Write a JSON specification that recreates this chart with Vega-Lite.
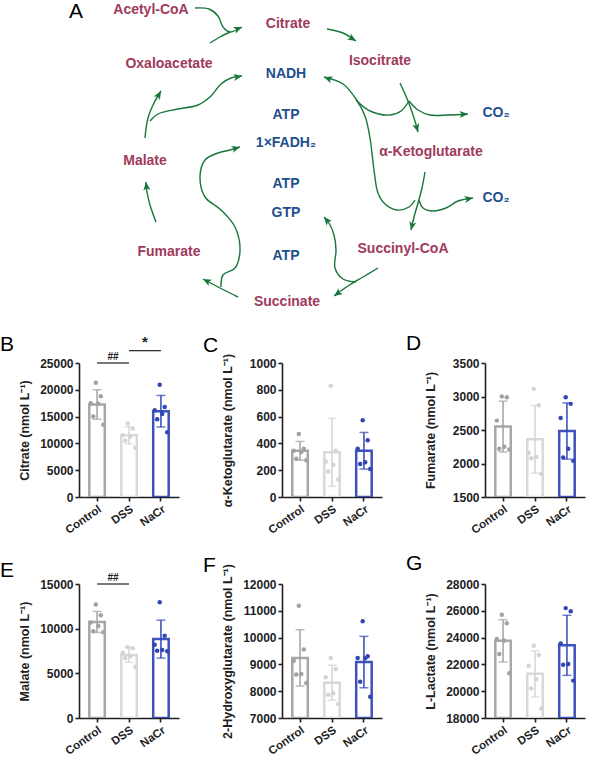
{
"$schema":"https://vega.github.io/schema/vega-lite/v6.json",
"padding":{"left":0,"top":0,"right":0,"bottom":30},
"background":"white",
"config":{
 "font":"Liberation Sans",
 "view":{"stroke":null},
 "title":{"anchor":"start","frame":"bounds","fontSize":21,"fontWeight":"normal","font":"Liberation Sans","color":"#000000","offset":4},
 "axis":{"grid":false,"domainColor":"#221e1f","domainWidth":1.6,"tickColor":"#221e1f","tickWidth":1.6,"tickSize":4,"labelFont":"Liberation Sans","labelFontSize":12,"labelFontWeight":"bold","labelColor":"#221e1f","labelPadding":2,"titleFont":"Liberation Sans","titleFontSize":12.5,"titleFontWeight":"bold","titleColor":"#221e1f","labelOverlap":false},
 "axisY":{"minExtent":40,"maxExtent":40,"titlePadding":8,"format":"d","labelOverlap":false,"tickCount":20},
 "axisX":{"labelAngle":-35,"labelAlign":"right","labelBaseline":"top","labelPadding":2,"labelFontSize":11.5}
},
"datasets":{
 "labels":[
  {"label":"Acetyl-CoA","x":153,"y":10,"kind":"metabolite"},
  {"label":"Citrate","x":290,"y":24,"kind":"metabolite"},
  {"label":"Isocitrate","x":382,"y":61,"kind":"metabolite"},
  {"label":"Oxaloacetate","x":171,"y":64,"kind":"metabolite"},
  {"label":"NADH","x":288,"y":74,"kind":"cofactor"},
  {"label":"ATP","x":288,"y":115,"kind":"cofactor"},
  {"label":"1×FADH₂","x":288,"y":143,"kind":"cofactor"},
  {"label":"CO₂","x":498,"y":113,"kind":"cofactor"},
  {"label":"α-Ketoglutarate","x":433,"y":152,"kind":"metabolite"},
  {"label":"Malate","x":147,"y":161,"kind":"metabolite"},
  {"label":"ATP","x":288,"y":184,"kind":"cofactor"},
  {"label":"GTP","x":288,"y":213,"kind":"cofactor"},
  {"label":"CO₂","x":498,"y":198,"kind":"cofactor"},
  {"label":"Fumarate","x":171,"y":252,"kind":"metabolite"},
  {"label":"Succinyl-CoA","x":405,"y":249,"kind":"metabolite"},
  {"label":"ATP","x":288,"y":256,"kind":"cofactor"},
  {"label":"Succinate","x":289,"y":302,"kind":"metabolite"}
 ],
 "arrows":[
  {"arrow":"a1","i":1,"x":197,"y":8},{"arrow":"a1","i":2,"x":211,"y":9},{"arrow":"a1","i":3,"x":220,"y":16},{"arrow":"a1","i":4,"x":225,"y":27},{"arrow":"a1","i":5,"x":232,"y":32},{"arrow":"a1","i":6,"x":244,"y":27},
  {"arrow":"a2","i":1,"x":212,"y":43},{"arrow":"a2","i":2,"x":222,"y":37},{"arrow":"a2","i":3,"x":232,"y":32},
  {"arrow":"a3","i":1,"x":329,"y":29},{"arrow":"a3","i":2,"x":345,"y":33},{"arrow":"a3","i":3,"x":358,"y":41},
  {"arrow":"a4","i":1,"x":147,"y":138},{"arrow":"a4","i":2,"x":150,"y":118},{"arrow":"a4","i":3,"x":156,"y":103},{"arrow":"a4","i":4,"x":163,"y":91},
  {"arrow":"a5","i":1,"x":152,"y":121},{"arrow":"a5","i":2,"x":160,"y":114},{"arrow":"a5","i":3,"x":180,"y":109},{"arrow":"a5","i":4,"x":200,"y":105},{"arrow":"a5","i":5,"x":213,"y":96},{"arrow":"a5","i":6,"x":223,"y":84},{"arrow":"a5","i":7,"x":233,"y":78},{"arrow":"a5","i":8,"x":244,"y":76},
  {"arrow":"a6","i":1,"x":417,"y":200},{"arrow":"a6","i":2,"x":411,"y":207},{"arrow":"a6","i":3,"x":399,"y":210},{"arrow":"a6","i":4,"x":387,"y":204},{"arrow":"a6","i":5,"x":380,"y":193},{"arrow":"a6","i":6,"x":376,"y":170},{"arrow":"a6","i":7,"x":372,"y":138},{"arrow":"a6","i":8,"x":367,"y":116},{"arrow":"a6","i":9,"x":358,"y":99},{"arrow":"a6","i":10,"x":345,"y":84},{"arrow":"a6","i":11,"x":326,"y":77},
  {"arrow":"a7","i":1,"x":358,"y":100},{"arrow":"a7","i":2,"x":372,"y":111},{"arrow":"a7","i":3,"x":392,"y":115},{"arrow":"a7","i":4,"x":403,"y":111},{"arrow":"a7","i":5,"x":411,"y":101},
  {"arrow":"a8","i":1,"x":402,"y":83},{"arrow":"a8","i":2,"x":410,"y":101},{"arrow":"a8","i":3,"x":416,"y":118},{"arrow":"a8","i":4,"x":420,"y":132},
  {"arrow":"a9","i":1,"x":411,"y":101},{"arrow":"a9","i":2,"x":420,"y":110},{"arrow":"a9","i":3,"x":432,"y":115},{"arrow":"a9","i":4,"x":450,"y":115},{"arrow":"a9","i":5,"x":470,"y":114},
  {"arrow":"a10","i":1,"x":427,"y":172},{"arrow":"a10","i":2,"x":424,"y":188},{"arrow":"a10","i":3,"x":420,"y":203},{"arrow":"a10","i":4,"x":416,"y":217},{"arrow":"a10","i":5,"x":413,"y":230},
  {"arrow":"a11","i":1,"x":421,"y":200},{"arrow":"a11","i":2,"x":425,"y":208},{"arrow":"a11","i":3,"x":435,"y":211},{"arrow":"a11","i":4,"x":448,"y":208},{"arrow":"a11","i":5,"x":460,"y":201},{"arrow":"a11","i":6,"x":475,"y":198},
  {"arrow":"a12","i":1,"x":380,"y":268},{"arrow":"a12","i":2,"x":365,"y":277},{"arrow":"a12","i":3,"x":350,"y":286},{"arrow":"a12","i":4,"x":336,"y":296},
  {"arrow":"a13","i":1,"x":358,"y":282},{"arrow":"a13","i":2,"x":345,"y":279},{"arrow":"a13","i":3,"x":337,"y":268},{"arrow":"a13","i":4,"x":338,"y":250},{"arrow":"a13","i":5,"x":336,"y":235},{"arrow":"a13","i":6,"x":331,"y":223},{"arrow":"a13","i":7,"x":326,"y":217},
  {"arrow":"a14","i":1,"x":240,"y":297},{"arrow":"a14","i":2,"x":222,"y":288},{"arrow":"a14","i":3,"x":205,"y":279},
  {"arrow":"a15","i":1,"x":158,"y":222},{"arrow":"a15","i":2,"x":152,"y":205},{"arrow":"a15","i":3,"x":149,"y":192},{"arrow":"a15","i":4,"x":148,"y":182},
  {"arrow":"a16","i":1,"x":223,"y":287},{"arrow":"a16","i":2,"x":225,"y":275},{"arrow":"a16","i":3,"x":237,"y":268},{"arrow":"a16","i":4,"x":242,"y":250},{"arrow":"a16","i":5,"x":237,"y":227},{"arrow":"a16","i":6,"x":223,"y":210},{"arrow":"a16","i":7,"x":207,"y":197},{"arrow":"a16","i":8,"x":202,"y":177},{"arrow":"a16","i":9,"x":207,"y":160},{"arrow":"a16","i":10,"x":220,"y":153},{"arrow":"a16","i":11,"x":232,"y":150},{"arrow":"a16","i":12,"x":242,"y":147}
 ],
 "arrowheads":[
  {"arrow":"a1","x":244,"y":27,"dir":67},
  {"arrow":"a3","x":358,"y":41,"dir":122},
  {"arrow":"a4","x":163,"y":91,"dir":30},
  {"arrow":"a5","x":244,"y":76,"dir":80},
  {"arrow":"a6","x":326,"y":77,"dir":290},
  {"arrow":"a8","x":420,"y":132,"dir":164},
  {"arrow":"a9","x":470,"y":114,"dir":87},
  {"arrow":"a10","x":413,"y":230,"dir":193},
  {"arrow":"a11","x":475,"y":198,"dir":79},
  {"arrow":"a12","x":336,"y":296,"dir":234},
  {"arrow":"a13","x":326,"y":217,"dir":320},
  {"arrow":"a14","x":205,"y":279,"dir":298},
  {"arrow":"a15","x":148,"y":182,"dir":354},
  {"arrow":"a16","x":242,"y":147,"dir":73}
 ],
 "measurements":[
  {"metabolite":"Citrate","group":"Control","mouse":3,"value":21300},{"metabolite":"Citrate","group":"Control","mouse":5,"value":18800},{"metabolite":"Citrate","group":"Control","mouse":1,"value":17500},{"metabolite":"Citrate","group":"Control","mouse":4,"value":17400},{"metabolite":"Citrate","group":"Control","mouse":2,"value":15000},{"metabolite":"Citrate","group":"Control","mouse":6,"value":13500},
  {"metabolite":"Citrate","group":"DSS","mouse":3,"value":13700},{"metabolite":"Citrate","group":"DSS","mouse":5,"value":12800},{"metabolite":"Citrate","group":"DSS","mouse":1,"value":11500},{"metabolite":"Citrate","group":"DSS","mouse":4,"value":11300},{"metabolite":"Citrate","group":"DSS","mouse":2,"value":10500},{"metabolite":"Citrate","group":"DSS","mouse":6,"value":9200},
  {"metabolite":"Citrate","group":"NaCr","mouse":3,"value":20960},{"metabolite":"Citrate","group":"NaCr","mouse":5,"value":16800},{"metabolite":"Citrate","group":"NaCr","mouse":1,"value":16200},{"metabolite":"Citrate","group":"NaCr","mouse":4,"value":15500},{"metabolite":"Citrate","group":"NaCr","mouse":2,"value":14500},{"metabolite":"Citrate","group":"NaCr","mouse":6,"value":12060},
  {"metabolite":"α-Ketoglutarate","group":"Control","mouse":3,"value":470},{"metabolite":"α-Ketoglutarate","group":"Control","mouse":5,"value":360},{"metabolite":"α-Ketoglutarate","group":"Control","mouse":1,"value":345},{"metabolite":"α-Ketoglutarate","group":"Control","mouse":4,"value":335},{"metabolite":"α-Ketoglutarate","group":"Control","mouse":2,"value":285},{"metabolite":"α-Ketoglutarate","group":"Control","mouse":6,"value":275},
  {"metabolite":"α-Ketoglutarate","group":"DSS","mouse":3,"value":830},{"metabolite":"α-Ketoglutarate","group":"DSS","mouse":5,"value":345},{"metabolite":"α-Ketoglutarate","group":"DSS","mouse":1,"value":265},{"metabolite":"α-Ketoglutarate","group":"DSS","mouse":4,"value":240},{"metabolite":"α-Ketoglutarate","group":"DSS","mouse":2,"value":190},{"metabolite":"α-Ketoglutarate","group":"DSS","mouse":6,"value":130},
  {"metabolite":"α-Ketoglutarate","group":"NaCr","mouse":3,"value":572},{"metabolite":"α-Ketoglutarate","group":"NaCr","mouse":5,"value":423},{"metabolite":"α-Ketoglutarate","group":"NaCr","mouse":1,"value":361},{"metabolite":"α-Ketoglutarate","group":"NaCr","mouse":4,"value":259},{"metabolite":"α-Ketoglutarate","group":"NaCr","mouse":2,"value":246},{"metabolite":"α-Ketoglutarate","group":"NaCr","mouse":6,"value":209},
  {"metabolite":"Fumarate","group":"Control","mouse":3,"value":3000},{"metabolite":"Fumarate","group":"Control","mouse":5,"value":2990},{"metabolite":"Fumarate","group":"Control","mouse":1,"value":2640},{"metabolite":"Fumarate","group":"Control","mouse":4,"value":2250},{"metabolite":"Fumarate","group":"Control","mouse":2,"value":2220},{"metabolite":"Fumarate","group":"Control","mouse":6,"value":2210},
  {"metabolite":"Fumarate","group":"DSS","mouse":3,"value":3114},{"metabolite":"Fumarate","group":"DSS","mouse":5,"value":2870},{"metabolite":"Fumarate","group":"DSS","mouse":1,"value":2157},{"metabolite":"Fumarate","group":"DSS","mouse":4,"value":2097},{"metabolite":"Fumarate","group":"DSS","mouse":2,"value":2080},{"metabolite":"Fumarate","group":"DSS","mouse":6,"value":1848},
  {"metabolite":"Fumarate","group":"NaCr","mouse":3,"value":2990},{"metabolite":"Fumarate","group":"NaCr","mouse":5,"value":2890},{"metabolite":"Fumarate","group":"NaCr","mouse":1,"value":2680},{"metabolite":"Fumarate","group":"NaCr","mouse":4,"value":2220},{"metabolite":"Fumarate","group":"NaCr","mouse":2,"value":2090},{"metabolite":"Fumarate","group":"NaCr","mouse":6,"value":2040},
  {"metabolite":"Malate","group":"Control","mouse":3,"value":12700},{"metabolite":"Malate","group":"Control","mouse":5,"value":11500},{"metabolite":"Malate","group":"Control","mouse":1,"value":10700},{"metabolite":"Malate","group":"Control","mouse":4,"value":10300},{"metabolite":"Malate","group":"Control","mouse":2,"value":9700},{"metabolite":"Malate","group":"Control","mouse":6,"value":9600},
  {"metabolite":"Malate","group":"DSS","mouse":3,"value":7950},{"metabolite":"Malate","group":"DSS","mouse":5,"value":7800},{"metabolite":"Malate","group":"DSS","mouse":1,"value":7300},{"metabolite":"Malate","group":"DSS","mouse":4,"value":6900},{"metabolite":"Malate","group":"DSS","mouse":2,"value":6700},{"metabolite":"Malate","group":"DSS","mouse":6,"value":5700},
  {"metabolite":"Malate","group":"NaCr","mouse":3,"value":12950},{"metabolite":"Malate","group":"NaCr","mouse":5,"value":9216},{"metabolite":"Malate","group":"NaCr","mouse":1,"value":8209},{"metabolite":"Malate","group":"NaCr","mouse":4,"value":7612},{"metabolite":"Malate","group":"NaCr","mouse":2,"value":7537},{"metabolite":"Malate","group":"NaCr","mouse":6,"value":7460},
  {"metabolite":"2-Hydroxyglutarate","group":"Control","mouse":3,"value":11190},{"metabolite":"2-Hydroxyglutarate","group":"Control","mouse":5,"value":9560},{"metabolite":"2-Hydroxyglutarate","group":"Control","mouse":1,"value":9140},{"metabolite":"2-Hydroxyglutarate","group":"Control","mouse":4,"value":8640},{"metabolite":"2-Hydroxyglutarate","group":"Control","mouse":2,"value":8620},{"metabolite":"2-Hydroxyglutarate","group":"Control","mouse":6,"value":8310},
  {"metabolite":"2-Hydroxyglutarate","group":"DSS","mouse":3,"value":9239},{"metabolite":"2-Hydroxyglutarate","group":"DSS","mouse":5,"value":8831},{"metabolite":"2-Hydroxyglutarate","group":"DSS","mouse":1,"value":8517},{"metabolite":"2-Hydroxyglutarate","group":"DSS","mouse":4,"value":7920},{"metabolite":"2-Hydroxyglutarate","group":"DSS","mouse":2,"value":7870},{"metabolite":"2-Hydroxyglutarate","group":"DSS","mouse":6,"value":7522},
  {"metabolite":"2-Hydroxyglutarate","group":"NaCr","mouse":3,"value":10607},{"metabolite":"2-Hydroxyglutarate","group":"NaCr","mouse":5,"value":9300},{"metabolite":"2-Hydroxyglutarate","group":"NaCr","mouse":1,"value":9239},{"metabolite":"2-Hydroxyglutarate","group":"NaCr","mouse":4,"value":9226},{"metabolite":"2-Hydroxyglutarate","group":"NaCr","mouse":2,"value":8356},{"metabolite":"2-Hydroxyglutarate","group":"NaCr","mouse":6,"value":7796},
  {"metabolite":"L-Lactate","group":"Control","mouse":3,"value":25711},{"metabolite":"L-Lactate","group":"Control","mouse":5,"value":25065},{"metabolite":"L-Lactate","group":"Control","mouse":1,"value":23896},{"metabolite":"L-Lactate","group":"Control","mouse":4,"value":23771},{"metabolite":"L-Lactate","group":"Control","mouse":2,"value":22776},{"metabolite":"L-Lactate","group":"Control","mouse":6,"value":21333},
  {"metabolite":"L-Lactate","group":"DSS","mouse":3,"value":23400},{"metabolite":"L-Lactate","group":"DSS","mouse":5,"value":22700},{"metabolite":"L-Lactate","group":"DSS","mouse":1,"value":21900},{"metabolite":"L-Lactate","group":"DSS","mouse":4,"value":20900},{"metabolite":"L-Lactate","group":"DSS","mouse":2,"value":20200},{"metabolite":"L-Lactate","group":"DSS","mouse":6,"value":18700},
  {"metabolite":"L-Lactate","group":"NaCr","mouse":3,"value":26200},{"metabolite":"L-Lactate","group":"NaCr","mouse":5,"value":25960},{"metabolite":"L-Lactate","group":"NaCr","mouse":1,"value":23570},{"metabolite":"L-Lactate","group":"NaCr","mouse":4,"value":22030},{"metabolite":"L-Lactate","group":"NaCr","mouse":2,"value":21980},{"metabolite":"L-Lactate","group":"NaCr","mouse":6,"value":20790}
 ],
 "significance":[
  {"metabolite":"Citrate","from":"Control","to":"DSS","level":25000,"mark":"##"},
  {"metabolite":"Citrate","from":"DSS","to":"NaCr","level":27300,"mark":"*"},
  {"metabolite":"Malate","from":"Control","to":"DSS","level":15000,"mark":"##"}
 ]
},
"vconcat":[
 {
  "width":521,"height":315,
  "layer":[
   {"data":{"name":"arrows"},"mark":{"type":"line","interpolate":"catmull-rom","strokeWidth":1.4,"color":"#18763a"},
    "encoding":{"x":{"field":"x","type":"quantitative","scale":{"domain":[81,602],"nice":false,"zero":false},"axis":null},"y":{"field":"y","type":"quantitative","scale":{"domain":[0,315],"reverse":true,"nice":false,"zero":false},"axis":null},"detail":{"field":"arrow","type":"nominal"},"order":{"field":"i","type":"quantitative"}}},
   {"data":{"name":"arrowheads"},"mark":{"type":"point","shape":"M0,0L0.85,2L0,1.5L-0.85,2Z","filled":true,"size":70,"color":"#18763a","opacity":1},
    "encoding":{"x":{"field":"x","type":"quantitative"},"y":{"field":"y","type":"quantitative"},"angle":{"field":"dir","type":"quantitative","scale":null}}},
   {"data":{"name":"labels"},"transform":[{"filter":"datum.kind === 'metabolite'"}],"mark":{"type":"text","fontSize":14,"fontWeight":"bold","font":"Liberation Sans","color":"#a03a5c"},
    "encoding":{"x":{"field":"x","type":"quantitative"},"y":{"field":"y","type":"quantitative"},"text":{"field":"label"}}},
   {"data":{"name":"labels"},"transform":[{"filter":"datum.kind === 'cofactor'"}],"mark":{"type":"text","fontSize":14,"fontWeight":"bold","font":"Liberation Sans","color":"#1f4f8e"},
    "encoding":{"x":{"field":"x","type":"quantitative"},"y":{"field":"y","type":"quantitative"},"text":{"field":"label"}}},
   {"data":{"values":[{"label":"A","x":78,"y":12}]},"mark":{"type":"text","fontSize":21,"font":"Liberation Sans","color":"#000000"},
    "encoding":{"x":{"field":"x","type":"quantitative"},"y":{"field":"y","type":"quantitative"},"text":{"field":"label"}}}
  ]
 },
 {
  "vconcat":[
   {"hconcat":[
    {"width":100,"height":134,"title":{"text":"B","dx":-18,"dy":24},
     "layer":[
      {"data":{"name":"measurements"},"transform":[{"filter":"datum.metabolite === 'Citrate'"}],"mark":{"type":"bar","fill":"white","strokeWidth":2.5,"size":15.5,"clip":true},
       "encoding":{"x":{"field":"group","type":"nominal","title":null,"scale":{"domain":["Control","DSS","NaCr"],"paddingInner":0.45,"paddingOuter":0.29}},"y":{"aggregate":"mean","field":"value","type":"quantitative","title":"Citrate (nmol L⁻¹)","scale":{"domain":[0,25000],"nice":false,"zero":false},"axis":{"values":[0,5000,10000,15000,20000,25000],"format":"d","labelOverlap":false,"tickCount":20}},"stroke":{"field":"group","type":"nominal","scale":{"domain":["Control","DSS","NaCr"],"range":["#a6a6ab","#d9d9d9","#3d52bb"]},"legend":null}}},
      {"data":{"name":"measurements"},"transform":[{"filter":"datum.metabolite === 'Citrate'"}],"mark":{"type":"errorbar","extent":"stdev","ticks":true,"size":9,"thickness":1.5},
       "encoding":{"x":{"field":"group","type":"nominal","title":null},"y":{"field":"value","type":"quantitative","title":"Citrate (nmol L⁻¹)"},"color":{"field":"group","type":"nominal","scale":{"domain":["Control","DSS","NaCr"],"range":["#a2a2a6","#d4d4d4","#3247b5"]},"legend":null}}},
      {"data":{"name":"measurements"},"transform":[{"filter":"datum.metabolite === 'Citrate'"}],"mark":{"type":"point","filled":true,"size":20,"opacity":1},
       "encoding":{"x":{"field":"group","type":"nominal","title":null},"xOffset":{"field":"mouse","type":"ordinal","scale":{"paddingOuter":1.5}},"y":{"field":"value","type":"quantitative","title":"Citrate (nmol L⁻¹)"},"color":{"field":"group","type":"nominal","scale":{"domain":["Control","DSS","NaCr"],"range":["#a2a2a6","#d4d4d4","#3247b5"]},"legend":null}}},
      {"data":{"name":"significance"},"transform":[{"filter":"datum.metabolite === 'Citrate'"}],"mark":{"type":"rule","strokeWidth":1.2,"color":"#221e1f"},
       "encoding":{"x":{"field":"from","type":"nominal","title":null},"x2":{"field":"to"},"y":{"field":"level","type":"quantitative","title":"Citrate (nmol L⁻¹)"}}},
      {"data":{"name":"significance"},"transform":[{"filter":"datum.metabolite === 'Citrate'"}],"mark":{"type":"text","dx":16,"dy":-1,"baseline":"bottom","fontWeight":"bold","color":"#221e1f"},
       "encoding":{"x":{"field":"from","type":"nominal","title":null},"y":{"field":"level","type":"quantitative","title":"Citrate (nmol L⁻¹)"},"text":{"field":"mark"},"size":{"field":"mark","type":"nominal","scale":{"domain":["##","*"],"range":[10,15]},"legend":null}}}
     ]},
    {"width":100,"height":134,"title":{"text":"C","dx":-18,"dy":7},
     "layer":[
      {"data":{"name":"measurements"},"transform":[{"filter":"datum.metabolite === 'α-Ketoglutarate'"}],"mark":{"type":"bar","fill":"white","strokeWidth":2.5,"size":15.5,"clip":true},
       "encoding":{"x":{"field":"group","type":"nominal","title":null,"scale":{"domain":["Control","DSS","NaCr"],"paddingInner":0.45,"paddingOuter":0.29}},"y":{"aggregate":"mean","field":"value","type":"quantitative","title":"α-Ketoglutarate (nmol L⁻¹)","scale":{"domain":[0,1000],"nice":false,"zero":false},"axis":{"values":[0,200,400,600,800,1000],"format":"d","labelOverlap":false,"tickCount":20}},"stroke":{"field":"group","type":"nominal","scale":{"domain":["Control","DSS","NaCr"],"range":["#a6a6ab","#d9d9d9","#3d52bb"]},"legend":null}}},
      {"data":{"name":"measurements"},"transform":[{"filter":"datum.metabolite === 'α-Ketoglutarate'"}],"mark":{"type":"errorbar","extent":"stdev","ticks":true,"size":9,"thickness":1.5},
       "encoding":{"x":{"field":"group","type":"nominal","title":null},"y":{"field":"value","type":"quantitative","title":"α-Ketoglutarate (nmol L⁻¹)"},"color":{"field":"group","type":"nominal","scale":{"domain":["Control","DSS","NaCr"],"range":["#a2a2a6","#d4d4d4","#3247b5"]},"legend":null}}},
      {"data":{"name":"measurements"},"transform":[{"filter":"datum.metabolite === 'α-Ketoglutarate'"}],"mark":{"type":"point","filled":true,"size":20,"opacity":1},
       "encoding":{"x":{"field":"group","type":"nominal","title":null},"xOffset":{"field":"mouse","type":"ordinal","scale":{"paddingOuter":1.5}},"y":{"field":"value","type":"quantitative","title":"α-Ketoglutarate (nmol L⁻¹)"},"color":{"field":"group","type":"nominal","scale":{"domain":["Control","DSS","NaCr"],"range":["#a2a2a6","#d4d4d4","#3247b5"]},"legend":null}}}
     ]},
    {"width":100,"height":134,"title":{"text":"D","dx":-18,"dy":1},
     "layer":[
      {"data":{"name":"measurements"},"transform":[{"filter":"datum.metabolite === 'Fumarate'"}],"mark":{"type":"bar","fill":"white","strokeWidth":2.5,"size":15.5,"clip":true},
       "encoding":{"x":{"field":"group","type":"nominal","title":null,"scale":{"domain":["Control","DSS","NaCr"],"paddingInner":0.45,"paddingOuter":0.29}},"y":{"aggregate":"mean","field":"value","type":"quantitative","title":"Fumarate (nmol L⁻¹)","scale":{"domain":[1500,3500],"nice":false,"zero":false},"axis":{"values":[1500,2000,2500,3000,3500],"format":"d","labelOverlap":false,"tickCount":20}},"stroke":{"field":"group","type":"nominal","scale":{"domain":["Control","DSS","NaCr"],"range":["#a6a6ab","#d9d9d9","#3d52bb"]},"legend":null}}},
      {"data":{"name":"measurements"},"transform":[{"filter":"datum.metabolite === 'Fumarate'"}],"mark":{"type":"errorbar","extent":"stdev","ticks":true,"size":9,"thickness":1.5},
       "encoding":{"x":{"field":"group","type":"nominal","title":null},"y":{"field":"value","type":"quantitative","title":"Fumarate (nmol L⁻¹)"},"color":{"field":"group","type":"nominal","scale":{"domain":["Control","DSS","NaCr"],"range":["#a2a2a6","#d4d4d4","#3247b5"]},"legend":null}}},
      {"data":{"name":"measurements"},"transform":[{"filter":"datum.metabolite === 'Fumarate'"}],"mark":{"type":"point","filled":true,"size":20,"opacity":1},
       "encoding":{"x":{"field":"group","type":"nominal","title":null},"xOffset":{"field":"mouse","type":"ordinal","scale":{"paddingOuter":1.5}},"y":{"field":"value","type":"quantitative","title":"Fumarate (nmol L⁻¹)"},"color":{"field":"group","type":"nominal","scale":{"domain":["Control","DSS","NaCr"],"range":["#a2a2a6","#d4d4d4","#3247b5"]},"legend":null}}}
     ]}
   ],"spacing":103,"bounds":"flush"},
   {"hconcat":[
    {"width":100,"height":134,"title":{"text":"E","dx":-18,"dy":12},
     "layer":[
      {"data":{"name":"measurements"},"transform":[{"filter":"datum.metabolite === 'Malate'"}],"mark":{"type":"bar","fill":"white","strokeWidth":2.5,"size":15.5,"clip":true},
       "encoding":{"x":{"field":"group","type":"nominal","title":null,"scale":{"domain":["Control","DSS","NaCr"],"paddingInner":0.45,"paddingOuter":0.29}},"y":{"aggregate":"mean","field":"value","type":"quantitative","title":"Malate (nmol L⁻¹)","scale":{"domain":[0,15000],"nice":false,"zero":false},"axis":{"values":[0,5000,10000,15000],"format":"d","labelOverlap":false,"tickCount":20}},"stroke":{"field":"group","type":"nominal","scale":{"domain":["Control","DSS","NaCr"],"range":["#a6a6ab","#d9d9d9","#3d52bb"]},"legend":null}}},
      {"data":{"name":"measurements"},"transform":[{"filter":"datum.metabolite === 'Malate'"}],"mark":{"type":"errorbar","extent":"stdev","ticks":true,"size":9,"thickness":1.5},
       "encoding":{"x":{"field":"group","type":"nominal","title":null},"y":{"field":"value","type":"quantitative","title":"Malate (nmol L⁻¹)"},"color":{"field":"group","type":"nominal","scale":{"domain":["Control","DSS","NaCr"],"range":["#a2a2a6","#d4d4d4","#3247b5"]},"legend":null}}},
      {"data":{"name":"measurements"},"transform":[{"filter":"datum.metabolite === 'Malate'"}],"mark":{"type":"point","filled":true,"size":20,"opacity":1},
       "encoding":{"x":{"field":"group","type":"nominal","title":null},"xOffset":{"field":"mouse","type":"ordinal","scale":{"paddingOuter":1.5}},"y":{"field":"value","type":"quantitative","title":"Malate (nmol L⁻¹)"},"color":{"field":"group","type":"nominal","scale":{"domain":["Control","DSS","NaCr"],"range":["#a2a2a6","#d4d4d4","#3247b5"]},"legend":null}}},
      {"data":{"name":"significance"},"transform":[{"filter":"datum.metabolite === 'Malate'"}],"mark":{"type":"rule","strokeWidth":1.2,"color":"#221e1f"},
       "encoding":{"x":{"field":"from","type":"nominal","title":null},"x2":{"field":"to"},"y":{"field":"level","type":"quantitative","title":"Malate (nmol L⁻¹)"}}},
      {"data":{"name":"significance"},"transform":[{"filter":"datum.metabolite === 'Malate'"}],"mark":{"type":"text","dx":16,"dy":-1,"baseline":"bottom","fontWeight":"bold","color":"#221e1f"},
       "encoding":{"x":{"field":"from","type":"nominal","title":null},"y":{"field":"level","type":"quantitative","title":"Malate (nmol L⁻¹)"},"text":{"field":"mark"},"size":{"field":"mark","type":"nominal","scale":{"domain":["##","*"],"range":[10,15]},"legend":null}}}
     ]},
    {"width":100,"height":134,"title":{"text":"F","dx":-18,"dy":16},
     "layer":[
      {"data":{"name":"measurements"},"transform":[{"filter":"datum.metabolite === '2-Hydroxyglutarate'"}],"mark":{"type":"bar","fill":"white","strokeWidth":2.5,"size":15.5,"clip":true},
       "encoding":{"x":{"field":"group","type":"nominal","title":null,"scale":{"domain":["Control","DSS","NaCr"],"paddingInner":0.45,"paddingOuter":0.29}},"y":{"aggregate":"mean","field":"value","type":"quantitative","title":"2-Hydroxyglutarate (nmol L⁻¹)","scale":{"domain":[7000,12000],"nice":false,"zero":false},"axis":{"values":[7000,8000,9000,10000,11000,12000],"format":"d","labelOverlap":false,"tickCount":20}},"stroke":{"field":"group","type":"nominal","scale":{"domain":["Control","DSS","NaCr"],"range":["#a6a6ab","#d9d9d9","#3d52bb"]},"legend":null}}},
      {"data":{"name":"measurements"},"transform":[{"filter":"datum.metabolite === '2-Hydroxyglutarate'"}],"mark":{"type":"errorbar","extent":"stdev","ticks":true,"size":9,"thickness":1.5},
       "encoding":{"x":{"field":"group","type":"nominal","title":null},"y":{"field":"value","type":"quantitative","title":"2-Hydroxyglutarate (nmol L⁻¹)"},"color":{"field":"group","type":"nominal","scale":{"domain":["Control","DSS","NaCr"],"range":["#a2a2a6","#d4d4d4","#3247b5"]},"legend":null}}},
      {"data":{"name":"measurements"},"transform":[{"filter":"datum.metabolite === '2-Hydroxyglutarate'"}],"mark":{"type":"point","filled":true,"size":20,"opacity":1},
       "encoding":{"x":{"field":"group","type":"nominal","title":null},"xOffset":{"field":"mouse","type":"ordinal","scale":{"paddingOuter":1.5}},"y":{"field":"value","type":"quantitative","title":"2-Hydroxyglutarate (nmol L⁻¹)"},"color":{"field":"group","type":"nominal","scale":{"domain":["Control","DSS","NaCr"],"range":["#a2a2a6","#d4d4d4","#3247b5"]},"legend":null}}}
     ]},
    {"width":100,"height":134,"title":{"text":"G","dx":-18,"dy":0},
     "layer":[
      {"data":{"name":"measurements"},"transform":[{"filter":"datum.metabolite === 'L-Lactate'"}],"mark":{"type":"bar","fill":"white","strokeWidth":2.5,"size":15.5,"clip":true},
       "encoding":{"x":{"field":"group","type":"nominal","title":null,"scale":{"domain":["Control","DSS","NaCr"],"paddingInner":0.45,"paddingOuter":0.29}},"y":{"aggregate":"mean","field":"value","type":"quantitative","title":"L-Lactate (nmol L⁻¹)","scale":{"domain":[18000,28000],"nice":false,"zero":false},"axis":{"values":[18000,20000,22000,24000,26000,28000],"format":"d","labelOverlap":false,"tickCount":20}},"stroke":{"field":"group","type":"nominal","scale":{"domain":["Control","DSS","NaCr"],"range":["#a6a6ab","#d9d9d9","#3d52bb"]},"legend":null}}},
      {"data":{"name":"measurements"},"transform":[{"filter":"datum.metabolite === 'L-Lactate'"}],"mark":{"type":"errorbar","extent":"stdev","ticks":true,"size":9,"thickness":1.5},
       "encoding":{"x":{"field":"group","type":"nominal","title":null},"y":{"field":"value","type":"quantitative","title":"L-Lactate (nmol L⁻¹)"},"color":{"field":"group","type":"nominal","scale":{"domain":["Control","DSS","NaCr"],"range":["#a2a2a6","#d4d4d4","#3247b5"]},"legend":null}}},
      {"data":{"name":"measurements"},"transform":[{"filter":"datum.metabolite === 'L-Lactate'"}],"mark":{"type":"point","filled":true,"size":20,"opacity":1},
       "encoding":{"x":{"field":"group","type":"nominal","title":null},"xOffset":{"field":"mouse","type":"ordinal","scale":{"paddingOuter":1.5}},"y":{"field":"value","type":"quantitative","title":"L-Lactate (nmol L⁻¹)"},"color":{"field":"group","type":"nominal","scale":{"domain":["Control","DSS","NaCr"],"range":["#a2a2a6","#d4d4d4","#3247b5"]},"legend":null}}}
     ]}
   ],"spacing":103,"bounds":"flush"}
  ],
  "spacing":221,"bounds":"flush"
 }
],
"spacing":48,
"bounds":"flush"
}
